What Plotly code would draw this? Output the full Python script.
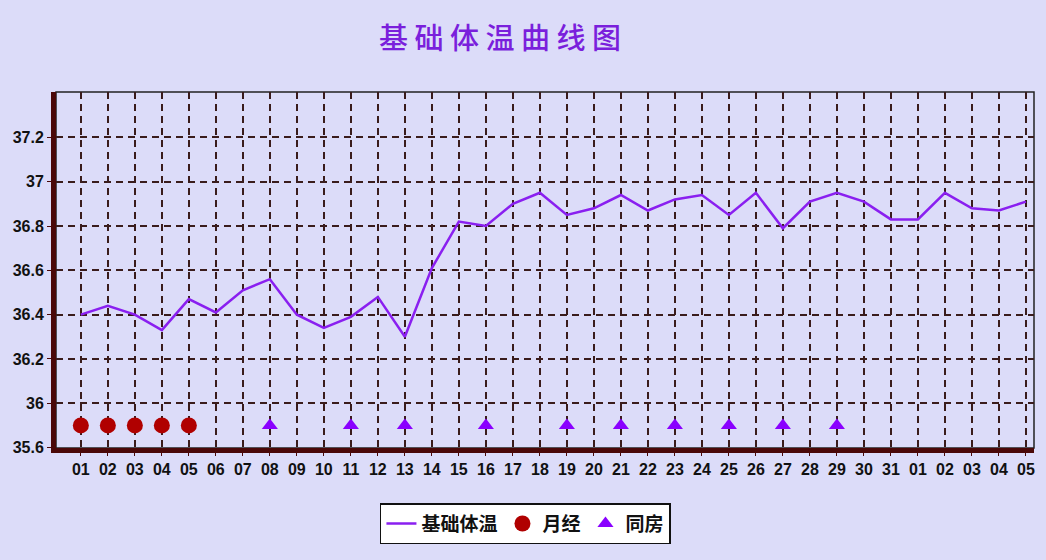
import plotly.graph_objects as go

# 日期标签（周期第1天起）
DIAS = [f"{d:02d}" for d in range(1, 32)] + [f"{d:02d}" for d in range(1, 6)]

# 基础体温（℃）
TEMPERATURA = [
    36.40, 36.44, 36.40, 36.33, 36.47, 36.41, 36.51, 36.56, 36.40, 36.34,
    36.39, 36.48, 36.30, 36.61, 36.82, 36.80, 36.90, 36.95, 36.85, 36.88,
    36.94, 36.87, 36.92, 36.94, 36.85, 36.95, 36.79, 36.91, 36.95, 36.91,
    36.83, 36.83, 36.95, 36.88, 36.87, 36.91,
]

# 月经日、同房日（DIAS 中的位置）
DIAS_MENSTRUACION = [0, 1, 2, 3, 4]
DIAS_RELACION = [7, 10, 12, 15, 18, 20, 22, 24, 26, 28]

# 标记所在的温度行
NIVEL_MARCA = 35.8

Y_TICKS = [35.6, 36.0, 36.2, 36.4, 36.6, 36.8, 37.0, 37.2]
Y_LABELS = ["35.6", "36", "36.2", "36.4", "36.6", "36.8", "37", "37.2"]

COLOR_FONDO = "#dcdcf9"
COLOR_LINEA = "#8a1ff0"
COLOR_MENS = "#b00000"
COLOR_REL = "#8a00ff"
COLOR_REJILLA = "#3a1c1c"
COLOR_EJE = "#4a0808"


def escala_y(v):
    # el tramo por debajo de 36 va comprimido a la mitad
    return v if v >= 36 else 36 - (36 - v) / 2


x = list(range(len(DIAS)))

fig = go.Figure()
fig.add_trace(
    go.Scatter(
        x=x,
        y=[escala_y(t) for t in TEMPERATURA],
        name="基础体温",
        mode="lines",
        line=dict(color=COLOR_LINEA, width=2.5),
    )
)
fig.add_trace(
    go.Scatter(
        x=DIAS_MENSTRUACION,
        y=[escala_y(NIVEL_MARCA)] * len(DIAS_MENSTRUACION),
        name="月经",
        mode="markers",
        marker=dict(color=COLOR_MENS, size=16, symbol="circle"),
    )
)
fig.add_trace(
    go.Scatter(
        x=DIAS_RELACION,
        y=[escala_y(NIVEL_MARCA)] * len(DIAS_RELACION),
        name="同房",
        mode="markers",
        marker=dict(color=COLOR_REL, size=14, symbol="triangle-up"),
    )
)

# borde fino arriba y a la derecha
fig.add_shape(
    type="rect",
    xref="x domain",
    yref="y domain",
    x0=0,
    x1=1,
    y0=0,
    y1=1,
    line=dict(color="#222222", width=1.5),
    layer="below",
)

fuente_num = dict(family="Liberation Sans, Arial", size=16, color="#111111", weight="bold")

fig.update_layout(
    title=dict(
        text="基 础 体 温 曲 线 图",
        x=500 / 1046,
        xanchor="center",
        y=0.93,
        yanchor="middle",
        font=dict(family="Noto Sans CJK SC", size=29, color="#7a1fdc", weight=500),
    ),
    width=1046,
    height=560,
    paper_bgcolor=COLOR_FONDO,
    plot_bgcolor=COLOR_FONDO,
    margin=dict(l=56, r=12, t=92, b=112),
    showlegend=True,
    legend=dict(
        orientation="h",
        x=0.48,
        xanchor="center",
        y=-0.155,
        yanchor="top",
        bgcolor="white",
        bordercolor="#111111",
        borderwidth=1.5,
        font=dict(family="Noto Sans CJK SC", size=19, color="#111111", weight="bold"),
        itemwidth=30,
    ),
    xaxis=dict(
        range=[-0.92, 35.3],
        tickmode="array",
        tickvals=x,
        ticktext=DIAS,
        tickfont=fuente_num,
        showgrid=True,
        gridcolor=COLOR_REJILLA,
        gridwidth=1.8,
        griddash="7px,5px",
        showline=True,
        linecolor=COLOR_EJE,
        linewidth=5,
        ticks="outside",
        ticklen=3,
        tickcolor=COLOR_EJE,
        zeroline=False,
        automargin=False,
    ),
    yaxis=dict(
        range=[35.798, 37.405],
        tickmode="array",
        tickvals=[escala_y(v) for v in Y_TICKS],
        ticktext=Y_LABELS,
        tickfont=fuente_num,
        showgrid=True,
        gridcolor=COLOR_REJILLA,
        gridwidth=1.8,
        griddash="7px,5px",
        showline=True,
        linecolor=COLOR_EJE,
        linewidth=5,
        ticks="outside",
        ticklen=4,
        tickcolor=COLOR_EJE,
        zeroline=False,
        automargin=False,
    ),
)

fig.write_html(
    "out.html",
    config={"displayModeBar": False},
    post_script="document.body.style.margin='0';",
)
